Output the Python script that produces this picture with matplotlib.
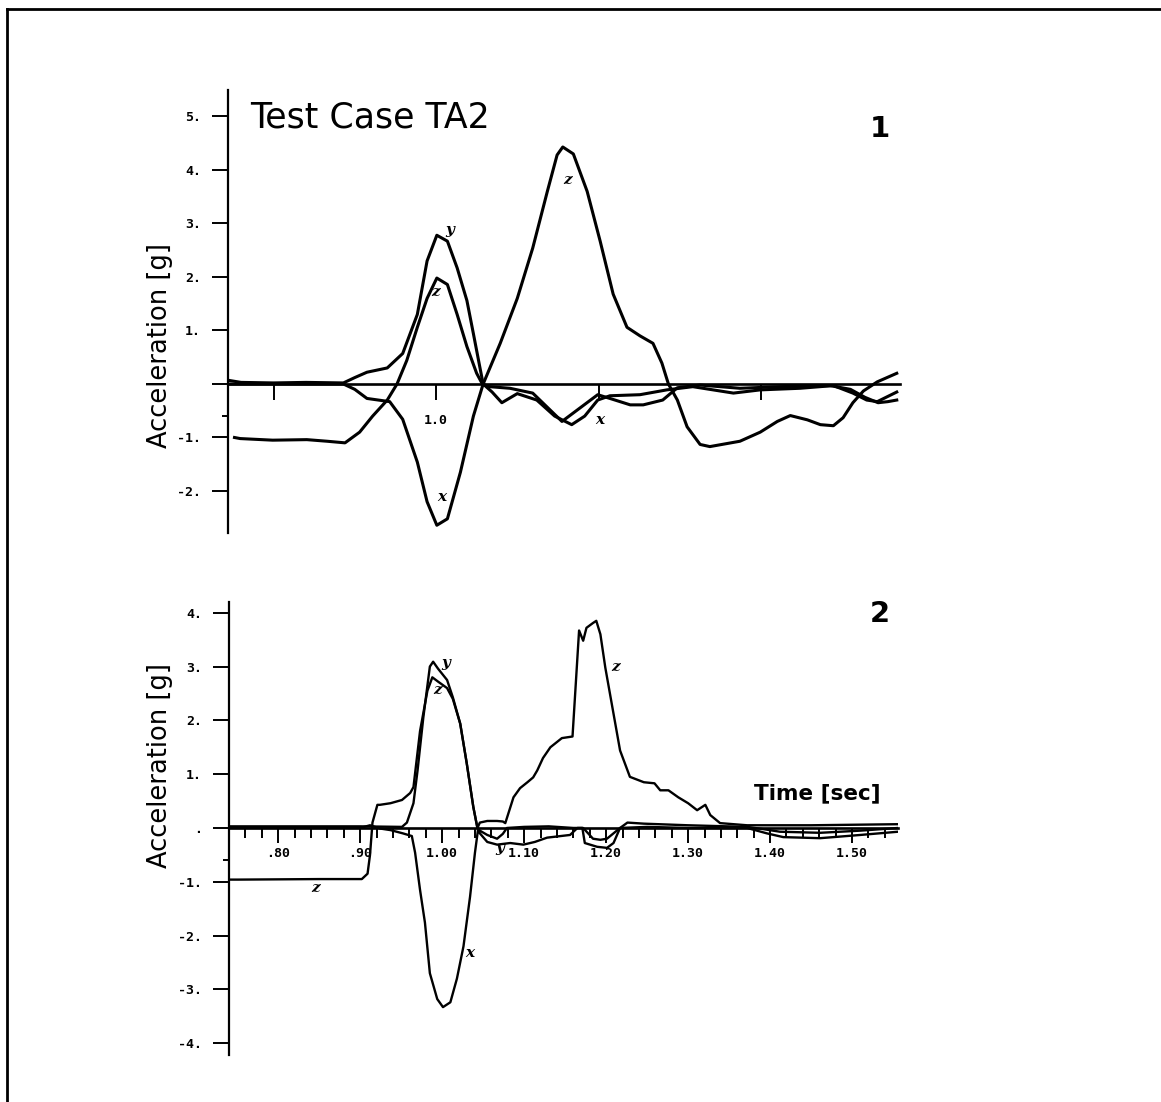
import numpy as np
import matplotlib
matplotlib.use('Agg')
import matplotlib.pyplot as plt
from matplotlib.lines import Line2D

# ---- panel 1: Test Case TA2 (smooth curves) ----
t1_x = [0.744, 0.80, 0.886, 0.90, 0.915, 0.943, 0.959, 0.977, 0.989, 1.001,
        1.014, 1.030, 1.046, 1.058, 1.079, 1.100, 1.119, 1.137, 1.149, 1.156,
        1.169, 1.186, 1.202, 1.218, 1.235, 1.251, 1.267, 1.278, 1.286, 1.297,
        1.309, 1.325, 1.337, 1.374, 1.399, 1.420, 1.436, 1.457, 1.473, 1.489,
        1.501, 1.513, 1.526, 1.543, 1.567]
a1_x = [0.0, 0.0, 0.0, -0.1, -0.27, -0.33, -0.66, -1.46, -2.2, -2.64,
        -2.52, -1.65, -0.6, 0.0, 0.76, 1.6, 2.54, 3.6, 4.28, 4.43,
        4.3, 3.6, 2.67, 1.68, 1.06, 0.9, 0.76, 0.39, 0.0, -0.3,
        -0.8, -1.13, -1.17, -1.07, -0.9, -0.7, -0.59, -0.67, -0.76, -0.78,
        -0.63, -0.35, -0.13, 0.04, 0.2]

t1_y = [0.744, 0.76, 0.80, 0.84, 0.886, 0.90, 0.915, 0.94, 0.959, 0.977,
        0.989, 1.001, 1.014, 1.026, 1.038, 1.046, 1.054, 1.058, 1.069, 1.081,
        1.100, 1.124, 1.146, 1.167, 1.183, 1.199, 1.214, 1.251, 1.284, 1.316,
        1.366, 1.399, 1.448, 1.489, 1.513, 1.530, 1.543, 1.555, 1.567]
a1_y = [0.07, 0.03, 0.02, 0.03, 0.02, 0.12, 0.22, 0.3, 0.57, 1.3,
        2.3, 2.78, 2.67, 2.17, 1.56, 0.94, 0.31, 0.0, -0.15, -0.35,
        -0.18, -0.3, -0.6, -0.76, -0.6, -0.3, -0.22, -0.2, -0.11, -0.05,
        -0.17, -0.11, -0.08, -0.03, -0.17, -0.3, -0.33, -0.24, -0.15]

t1_z = [0.752, 0.759, 0.799, 0.841, 0.866, 0.888, 0.906, 0.922, 0.940, 0.952,
        0.964, 0.977, 0.989, 1.001, 1.014, 1.026, 1.038, 1.050, 1.057, 1.066,
        1.091, 1.119, 1.138, 1.155, 1.177, 1.199, 1.214, 1.239, 1.255, 1.279,
        1.297, 1.325, 1.374, 1.423, 1.485, 1.510, 1.528, 1.544, 1.556, 1.567]
a1_z = [-1.0, -1.02, -1.05, -1.04, -1.07, -1.1, -0.9, -0.6, -0.3, 0.0,
        0.44, 1.06, 1.6, 1.98, 1.86, 1.3, 0.7, 0.2, 0.0, -0.05,
        -0.08, -0.17, -0.45, -0.7, -0.45, -0.2, -0.27, -0.39, -0.39, -0.3,
        -0.07, -0.02, -0.08, -0.05, -0.03, -0.1, -0.25, -0.35, -0.33, -0.3]

# ---- panel 2: measured curves ----
t2_x = [0.740, 0.90, 0.912, 0.924, 0.937, 0.952, 0.963, 0.967, 0.973, 0.979,
        0.985, 0.994, 1.001, 1.010, 1.018, 1.026, 1.034, 1.040, 1.044, 1.046,
        1.055, 1.067, 1.083, 1.099, 1.113, 1.128, 1.156, 1.165, 1.171, 1.174,
        1.189, 1.201, 1.209, 1.217, 1.25, 1.30, 1.372, 1.396, 1.416, 1.461,
        1.510, 1.556]
a2_x = [0.0, 0.0, 0.05, -0.01, -0.04, -0.1, -0.15, -0.46, -1.15, -1.76,
        -2.7, -3.18, -3.33, -3.24, -2.8, -2.2, -1.28, -0.46, 0.0, -0.1,
        -0.26, -0.31, -0.28, -0.31, -0.26, -0.18, -0.13, 0.0, 0.0, -0.28,
        -0.35, -0.37, -0.28, 0.0, 0.02, 0.0, 0.0, -0.1, -0.17, -0.19,
        -0.13, -0.07]

t2_y = [0.740, 0.80, 0.90, 0.951, 0.957, 0.965, 0.970, 0.977, 0.985, 0.989,
        0.995, 1.006, 1.013, 1.022, 1.030, 1.038, 1.043, 1.046, 1.055, 1.067,
        1.074, 1.079, 1.10, 1.13, 1.16, 1.172, 1.184, 1.193, 1.201, 1.209,
        1.217, 1.226, 1.246, 1.30, 1.372, 1.391, 1.412, 1.461, 1.510, 1.556]
a2_y = [0.03, 0.03, 0.03, 0.02, 0.1, 0.46, 1.07, 2.05, 3.0, 3.09,
        2.96, 2.75, 2.43, 1.94, 1.2, 0.39, 0.0, -0.05, -0.13, -0.2,
        -0.11, 0.0, 0.02, 0.03, 0.0, 0.0, -0.2, -0.22, -0.2, -0.1,
        0.0, 0.1, 0.08, 0.05, 0.02, -0.02, -0.07, -0.09, -0.05, 0.0]

t2_z = [0.740, 0.751, 0.85, 0.902, 0.909, 0.912, 0.915, 0.921, 0.924, 0.937,
        0.951, 0.961, 0.965, 0.973, 0.982, 0.988, 0.995, 1.006, 1.013, 1.022,
        1.030, 1.038, 1.043, 1.046, 1.055, 1.067, 1.074, 1.077, 1.087, 1.095,
        1.104, 1.111, 1.116, 1.123, 1.132, 1.146, 1.159, 1.167, 1.172, 1.176,
        1.184, 1.188, 1.193, 1.199, 1.217, 1.229, 1.246, 1.259, 1.266, 1.276,
        1.288, 1.300, 1.311, 1.321, 1.327, 1.339, 1.372, 1.45, 1.556]
a2_z = [-0.96, -0.96, -0.95, -0.95, -0.85, -0.5, 0.1, 0.43, 0.43, 0.46,
        0.52, 0.65, 0.76, 1.8, 2.55, 2.8, 2.72, 2.6, 2.4, 1.94,
        1.2, 0.39, 0.0, 0.1, 0.13, 0.13, 0.12, 0.09, 0.57, 0.74,
        0.85, 0.94, 1.07, 1.3, 1.5, 1.67, 1.7, 3.67, 3.48, 3.72,
        3.81, 3.85, 3.6, 2.98, 1.44, 0.95, 0.85, 0.83, 0.7, 0.7,
        0.57, 0.46, 0.33, 0.43, 0.24, 0.09, 0.05, 0.05, 0.07]

# ticks
top_xticks = [0.8, 1.0, 1.2, 1.4]
top_xlabels = ['', '1.0', '', '']
top_yticks = [-2, -1, 0, 1, 2, 3, 4, 5]
top_ylabels = ['-2.', '-1.', '', '1.', '2.', '3.', '4.', '5.']

bot_xticks = [0.8, 0.9, 1.0, 1.1, 1.2, 1.3, 1.4, 1.5]
bot_xlabels = ['.80', '.90', '1.00', '1.10', '1.20', '1.30', '1.40', '1.50']
bot_minor = [0.76, 0.78, 0.82, 0.84, 0.86, 0.88, 0.92, 0.94, 0.96, 0.98,
             1.02, 1.04, 1.06, 1.08, 1.12, 1.14, 1.16, 1.18, 1.22, 1.24,
             1.26, 1.28, 1.32, 1.34, 1.36, 1.38, 1.42, 1.44, 1.46, 1.48,
             1.52, 1.54]
bot_yticks = [-4, -3, -2, -1, 0, 1, 2, 3, 4]
bot_ylabels = ['-4.', '-3.', '-2.', '-1.', '.', '1.', '2.', '3.', '4.']

W, H = 1161, 1102
fig = plt.figure(figsize=(W / 100, H / 100), dpi=100)

tickfont = dict(family='DejaVu Sans Mono', weight='bold', size=9.5)
lblfont = dict(family='DejaVu Serif', style='italic', weight='bold', size=11)


def setup(ax):
    for s in ['top', 'right']:
        ax.spines[s].set_visible(False)
    ax.spines['bottom'].set_position(('data', 0))
    ax.spines['bottom'].set_linewidth(1.9)
    ax.spines['left'].set_linewidth(1.6)
    ax.tick_params(axis='y', direction='out', length=11.5, width=1.4, pad=8)
    ax.tick_params(axis='x', direction='out', width=1.4)
    ax.set_facecolor('none')


# top panel
ax1 = fig.add_axes([228 / W, 1 - 533 / H, 672 / W, 443 / H])
setup(ax1)
for t, a in [(t1_x, a1_x), (t1_y, a1_y), (t1_z, a1_z)]:
    ax1.plot(t, a, color='black', lw=2.2, solid_joinstyle='round')
ax1.set_xlim(0.744, 1.571)
ax1.set_ylim(-2.785, 5.495)
ax1.set_xticks(top_xticks)
ax1.set_xticklabels(top_xlabels, fontdict=tickfont)
ax1.tick_params(axis='x', length=11.5, pad=10)
ax1.set_yticks(top_yticks)
ax1.set_yticklabels(top_ylabels, fontdict=tickfont)
ax1.set_yticks([-0.6], minor=True)
ax1.tick_params(axis='y', which='minor', length=4, width=1.4, pad=0)

ax1.text(1.017, 2.88, 'y', fontdict=lblfont, ha='center', va='center')
ax1.text(0.999, 1.72, 'z', fontdict=lblfont, ha='center', va='center')
ax1.text(1.162, 3.81, 'z', fontdict=lblfont, ha='center', va='center')
ax1.text(1.007, -2.11, 'x', fontdict=lblfont, ha='center', va='center')
ax1.text(1.202, -0.67, 'x', fontdict=lblfont, ha='center', va='center')

# bottom panel
ax2 = fig.add_axes([229 / W, 1 - 1055 / H, 669 / W, 453 / H])
setup(ax2)
for t, a in [(t2_x, a2_x), (t2_y, a2_y), (t2_z, a2_z)]:
    ax2.plot(t, a, color='black', lw=1.7, solid_joinstyle='round')
ax2.set_xlim(0.740, 1.556)
ax2.set_ylim(-4.22, 4.20)
ax2.set_xticks(bot_xticks)
ax2.set_xticklabels(bot_xlabels, fontdict=tickfont)
ax2.set_xticks(bot_minor, minor=True)
ax2.tick_params(axis='x', which='major', length=10.8, pad=3)
ax2.tick_params(axis='x', which='minor', length=7, width=1.4)
ax2.set_yticks(bot_yticks)
ax2.set_yticklabels(bot_ylabels, fontdict=tickfont)
ax2.set_yticks([-0.6], minor=True)
ax2.tick_params(axis='y', which='minor', length=4, width=1.4, pad=0)

ax2.text(1.004, 3.07, 'y', fontdict=lblfont, ha='center', va='center')
ax2.text(0.994, 2.57, 'z', fontdict=lblfont, ha='center', va='center')
ax2.text(1.211, 2.99, 'z', fontdict=lblfont, ha='center', va='center')
ax2.text(1.070, -0.37, 'y', fontdict=lblfont, ha='center', va='center')
ax2.text(1.034, -2.32, 'x', fontdict=lblfont, ha='center', va='center')
ax2.text(0.845, -1.12, 'z', fontdict=lblfont, ha='center', va='center')

# texts in figure pixels
fig.text(250 / W, 1 - 118 / H, 'Test Case TA2', family='DejaVu Sans',
         size=25, ha='left', va='center')
fig.text(880 / W, 1 - 129 / H, '1', family='DejaVu Sans', weight='bold',
         size=21, ha='center', va='center')
fig.text(880 / W, 1 - 614 / H, '2', family='DejaVu Sans', weight='bold',
         size=21, ha='center', va='center')
fig.text(817 / W, 1 - 793 / H, 'Time [sec]', family='DejaVu Sans', weight='bold',
         size=15.5, ha='center', va='center')
fig.text(160 / W, 1 - 345 / H, 'Acceleration [g]', family='DejaVu Sans',
         size=18.5, rotation=90, ha='center', va='center')
fig.text(160 / W, 1 - 765 / H, 'Acceleration [g]', family='DejaVu Sans',
         size=18.5, rotation=90, ha='center', va='center')

# page border (left and top edge)
fig.add_artist(Line2D([7 / W, 7 / W], [0, 1 - 9 / H], color='black', lw=2))
fig.add_artist(Line2D([7 / W, 1], [1 - 9 / H, 1 - 9 / H], color='black', lw=2))

fig.savefig('out.png', dpi=100)
